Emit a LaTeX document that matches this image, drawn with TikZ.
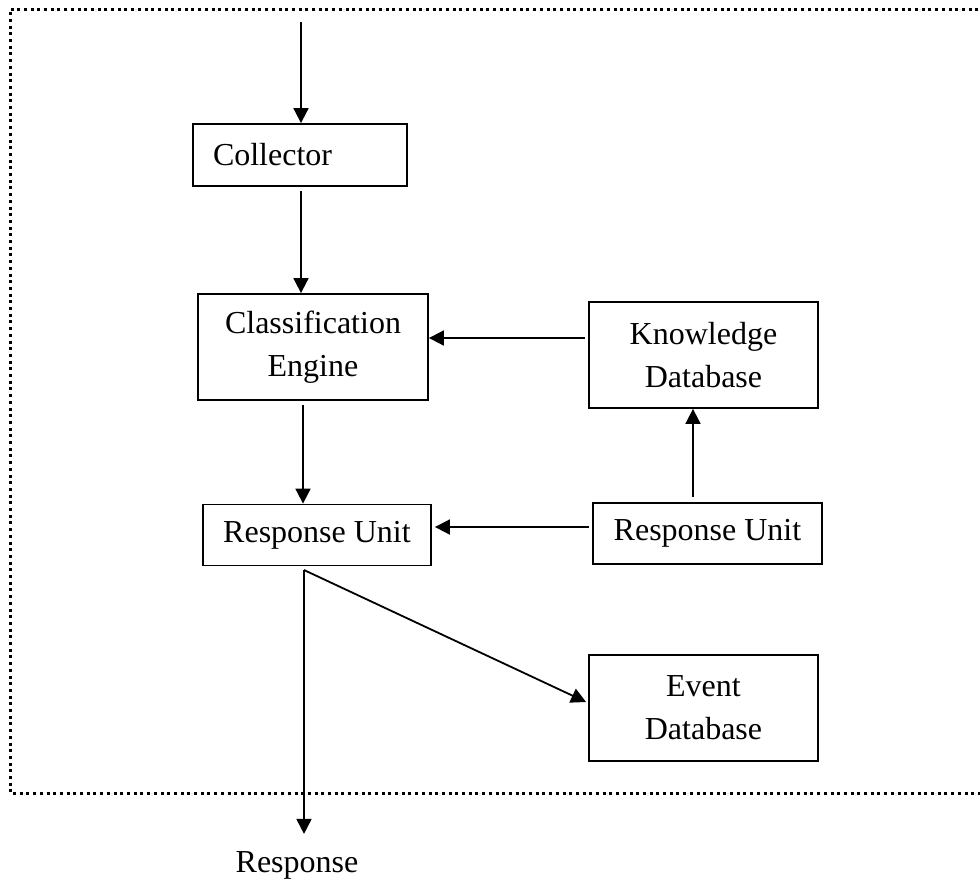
\documentclass[tikz,border=0pt]{standalone}
\usepackage{fontspec}
\setmainfont{Liberation Serif}
\usetikzlibrary{arrows.meta}
\begin{document}
\begin{tikzpicture}[x=1pt,y=-1pt,
  box/.style={draw, line width=1.8pt, inner sep=0pt, align=center,
    font=\fontsize{32}{43}\selectfont},
  arr/.style={line width=1.8pt, -{Triangle[length=15pt,width=15pt]}},
  frame/.style={line width=3pt, dash pattern=on 3pt off 3.7pt}]
\useasboundingbox (0,0) rectangle (980,879);
% frame (open on the right)
\draw[frame] (985,9) -- (10,9) -- (10,793) -- (985,793);
% nodes
\node[box, minimum height=62pt, text width=174pt, inner xsep=20pt, align=left] (col) at (300,155) {Collector};
\node[box, minimum width=230pt, minimum height=106pt] (cls) at (313,347) {Classification\\Engine};
\node[box, minimum width=229pt, minimum height=106pt] (kdb) at (703.5,355) {Knowledge\\Database};
\node[box, minimum width=228pt, minimum height=61pt] (ru1) at (317,535) {Response Unit};
\node[box, minimum width=229pt, minimum height=61pt] (ru2) at (707.5,533.5) {Response Unit};
\node[box, minimum width=229pt, minimum height=106pt] (evt) at (703.5,708) {Event\\Database};
\node[font=\fontsize{32}{43}\selectfont, inner sep=0pt] (resp) at (297,865) {Response};
% helper coordinates
\coordinate (in) at (301,22);
\coordinate (axis) at (303,0);
\coordinate (split) at (304,570);
% connectors
\draw[arr] (in) -- (col.north -| in);
\draw[arr, shorten <=4pt] (col.south -| in) -- (cls.north -| in);
\draw[arr, shorten <=3pt] ([yshift=17pt]kdb.west) -- ([yshift=17pt]kdb.west -| cls.east);
\draw[arr, shorten <=4pt] (cls.south -| axis) -- (ru1.north -| axis);
\draw[arr, shorten <=3pt, shorten >=3pt] ([yshift=6.5pt]ru2.west) -- ([yshift=6.5pt]ru2.west -| ru1.east);
\draw[arr, shorten <=5pt] ([xshift=-14.5pt]ru2.north) -- ([xshift=-14.5pt]ru2.north |- kdb.south);
\draw[arr] (split) -- ([xshift=-2pt,yshift=6pt]evt.west);
\draw[arr, shorten >=17pt] (split) -- (resp.north -| split);
\end{tikzpicture}
\end{document}
